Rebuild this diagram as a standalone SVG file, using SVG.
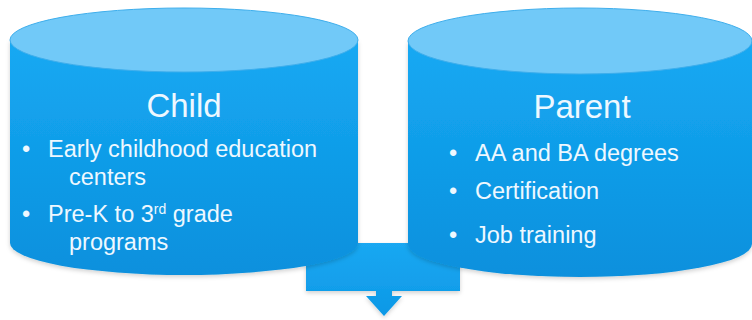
<svg xmlns="http://www.w3.org/2000/svg" width="752" height="320" viewBox="0 0 752 320">
  <defs>
    <linearGradient id="bodyGrad" x1="0" y1="0" x2="0" y2="1">
      <stop offset="0" stop-color="#16a9f3"/>
      <stop offset="1" stop-color="#0a90dd"/>
    </linearGradient>
    <linearGradient id="arrowGrad" x1="0" y1="0" x2="0" y2="1">
      <stop offset="0" stop-color="#1aa8f2"/>
      <stop offset="1" stop-color="#0c98e6"/>
    </linearGradient>
    <filter id="softShadow" x="-10%" y="-10%" width="120%" height="130%">
      <feDropShadow dx="0" dy="2" stdDeviation="2" flood-color="#000" flood-opacity="0.18"/>
    </filter>
  </defs>
  <style>
    .body { fill: url(#bodyGrad); }
    .lid { fill: #71c9f8; stroke: #3eaeec; stroke-width: 1; }
    .title { font-family: "Liberation Sans", Arial, sans-serif; font-size: 33px; fill: #eef8ff; text-anchor: middle; }
    .item { font-family: "Liberation Sans", Arial, sans-serif; font-size: 23.5px; fill: #eef8ff; }
    .sup { font-size: 14px; }
  </style>

  <!-- down arrow connector behind the two cylinders -->
  <g id="connectors">
    <path d="M306,243 H460 V291 H392 V296 H402 L384,316 L366,296 H376 V291 H306 Z" fill="url(#arrowGrad)" filter="url(#softShadow)"/>
  </g>

  <!-- Child cylinder -->
  <g id="child">
    <path class="body" d="M10,40 V243 A174,32 0 0 0 358,243 V40 Z" filter="url(#softShadow)"/>
    <ellipse class="lid" cx="184" cy="40" rx="174" ry="32"/>
    <text class="title" x="184" y="117">Child</text>
    <text class="item" x="22" y="157">•</text>
    <text class="item" x="48" y="157">Early childhood education</text>
    <text class="item" x="69" y="185">centers</text>
    <text class="item" x="22" y="222">•</text>
    <text class="item" x="48" y="222">Pre-K to 3<tspan class="sup" dy="-8">rd</tspan><tspan dy="8"> grade</tspan></text>
    <text class="item" x="69" y="250">programs</text>
  </g>

  <!-- Parent cylinder -->
  <g id="parent">
    <path class="body" d="M408,41 V244 A172,33 0 0 0 752,244 V41 Z" filter="url(#softShadow)"/>
    <ellipse class="lid" cx="580" cy="41" rx="172" ry="33"/>
    <text class="title" x="582" y="118">Parent</text>
    <text class="item" x="449" y="161">•</text>
    <text class="item" x="475" y="161">AA and BA degrees</text>
    <text class="item" x="449" y="199">•</text>
    <text class="item" x="475" y="199">Certification</text>
    <text class="item" x="449" y="243">•</text>
    <text class="item" x="475" y="243">Job training</text>
  </g>
</svg>
